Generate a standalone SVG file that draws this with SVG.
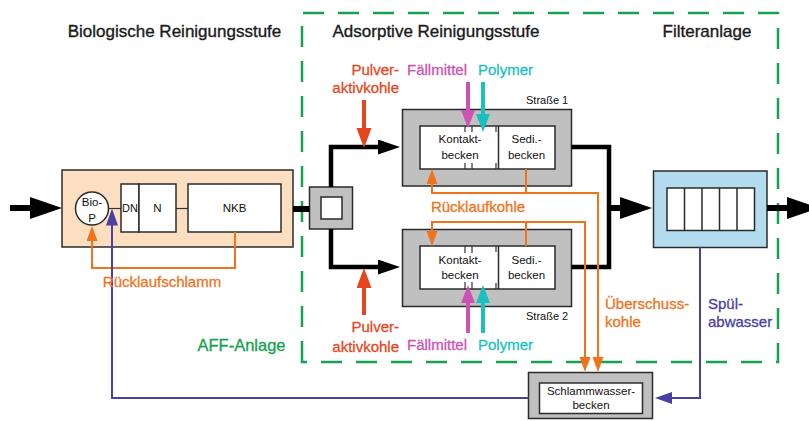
<svg xmlns="http://www.w3.org/2000/svg" width="809" height="421" viewBox="0 0 809 421">
<defs>
<style>
text{font-family:"Liberation Sans",Arial,sans-serif}
.h{font-size:17px;fill:#1a1a1a;stroke:#1a1a1a;stroke-width:0.35;text-anchor:middle}
.s{font-size:11.5px;fill:#111;text-anchor:middle}
.box{stroke:#2b2b2b;stroke-width:1.5}
.gray{fill:#c0c0c0}
.white{fill:#fff}
.tick{stroke:#333;stroke-width:1.2;fill:none}
.blk{stroke:#000;fill:none;stroke-linejoin:miter}
.org{stroke:#F0731C;stroke-width:2;fill:none}
.ind{stroke:#4A3FA5;stroke-width:2;fill:none}
.red{stroke:#E6461E;stroke-width:4;fill:none}
.mag{stroke:#CC52B4;stroke-width:4;fill:none}
.teal{stroke:#1ABFBF;stroke-width:4;fill:none}
.tOrg{font-size:15px;fill:#F0731C;stroke:#F0731C;stroke-width:0.3}
.tRed{font-size:15px;fill:#E6461E;stroke:#E6461E;stroke-width:0.3;text-anchor:end}
.tMag{font-size:15px;fill:#CC52B4;stroke:#CC52B4;stroke-width:0.3}
.tTeal{font-size:15px;fill:#1ABFBF;stroke:#1ABFBF;stroke-width:0.3}
.tInd{font-size:15px;fill:#4A3FA5;stroke:#4A3FA5;stroke-width:0.3}
.tGrn{font-size:16.5px;fill:#15A24F;stroke:#15A24F;stroke-width:0.3;text-anchor:middle}
</style>
<marker id="aBig" markerUnits="userSpaceOnUse" markerWidth="34" markerHeight="24" refX="2" refY="11" orient="auto"><path d="M0,0 L32,11 L0,22 Z" fill="#000"/></marker>
<marker id="aBr" markerUnits="userSpaceOnUse" markerWidth="24" markerHeight="16" refX="2" refY="7.5" orient="auto"><path d="M0,0 L22,7.5 L0,15 Z" fill="#000"/></marker>
<marker id="aRed" markerUnits="userSpaceOnUse" markerWidth="22" markerHeight="16" refX="2" refY="7.5" orient="auto"><path d="M0,0 L20,7.5 L0,15 Z" fill="#E6461E"/></marker>
<marker id="aMag" markerUnits="userSpaceOnUse" markerWidth="20" markerHeight="15" refX="2" refY="7" orient="auto"><path d="M0,0 L18,7 L0,14 Z" fill="#CC52B4"/></marker>
<marker id="aTeal" markerUnits="userSpaceOnUse" markerWidth="20" markerHeight="15" refX="2" refY="7" orient="auto"><path d="M0,0 L18,7 L0,14 Z" fill="#1ABFBF"/></marker>
<marker id="aOrg" markerUnits="userSpaceOnUse" markerWidth="17" markerHeight="12" refX="2" refY="5.5" orient="auto"><path d="M0,0 L15,5.5 L0,11 Z" fill="#F0731C"/></marker>
<marker id="aInd" markerUnits="userSpaceOnUse" markerWidth="19" markerHeight="13" refX="2" refY="6" orient="auto"><path d="M0,0 L17,6 L0,12 Z" fill="#4A3FA5"/></marker>
</defs>

<rect width="809" height="421" fill="#fff"/>

<!-- AFF-Anlage boundary -->
<g id="aff-boundary">
<path d="M302,362 V13 H778 V362 Z" fill="none" stroke="#15A24F" stroke-width="2.5" stroke-dasharray="21 14"/>
<text class="tGrn" x="241.5" y="351">AFF-Anlage</text>
</g>

<!-- headers -->
<g id="headers">
<text class="h" x="174.5" y="37">Biologische Reinigungsstufe</text>
<text class="h" x="436" y="37">Adsorptive Reinigungsstufe</text>
<text class="h" x="707" y="37">Filteranlage</text>
</g>

<!-- Biological stage -->
<g id="bio">
<rect class="box" x="62" y="170" width="231" height="77" fill="#FCDEC0"/>
<line class="tick" x1="108" y1="208.5" x2="121" y2="208.5"/>
<line class="tick" x1="176" y1="208.5" x2="188" y2="208.5"/>
</g>
<g id="biop">
<circle class="box white" cx="92" cy="208.5" r="16.5"/>
<text class="s" x="92" y="206">Bio-</text>
<text class="s" x="92" y="221.5">P</text>
</g>
<g id="dn">
<rect class="box white" x="121" y="184" width="18" height="48"/>
<text class="s" x="130" y="212" style="font-size:11px">DN</text>
</g>
<g id="n">
<rect class="box white" x="139" y="184" width="37" height="48"/>
<text class="s" x="157.5" y="212">N</text>
</g>
<g id="nkb">
<rect class="box white" x="188" y="184" width="93" height="48"/>
<text class="s" x="234.5" y="212">NKB</text>
</g>

<!-- distributor -->
<g id="verteiler">
<rect class="box gray" x="309.5" y="187" width="43" height="42"/>
<rect class="box white" x="321" y="197" width="21" height="22"/>
</g>

<!-- Strasse 1 -->
<g id="strasse1">
<rect class="box gray" x="402.5" y="109.5" width="169" height="76.5"/>
<rect class="box white" x="420" y="126" width="135" height="43"/>
<line class="box" x1="498.5" y1="126" x2="498.5" y2="169"/>
<path class="tick" d="M465,126 V132 M472,126 V132 M465,163 V169 M472,163 V169 M496,126 V132 M496,163 V169"/>
<text class="s" x="460" y="143">Kontakt-</text>
<text class="s" x="460" y="158.5">becken</text>
<text class="s" x="526.5" y="143">Sedi.-</text>
<text class="s" x="526.5" y="158.5">becken</text>
<text x="526" y="103.5" style="font-size:11px;fill:#111">Straße 1</text>
</g>

<!-- Strasse 2 -->
<g id="strasse2">
<rect class="box gray" x="402.5" y="229.5" width="169" height="77"/>
<rect class="box white" x="420" y="246" width="135" height="43"/>
<line class="box" x1="498.5" y1="246" x2="498.5" y2="289"/>
<path class="tick" d="M465,246 V253 M472,246 V253 M465,282 V289 M472,282 V289 M496,246 V252 M496,283 V289"/>
<text class="s" x="460" y="263.5">Kontakt-</text>
<text class="s" x="460" y="278.5">becken</text>
<text class="s" x="526.5" y="263.5">Sedi.-</text>
<text class="s" x="526.5" y="278.5">becken</text>
<text x="526" y="320" style="font-size:11px;fill:#111">Straße 2</text>
</g>

<!-- Filter -->
<g id="filter">
<rect class="box" x="653.5" y="171" width="113.5" height="76.5" fill="#B4DCEF"/>
<rect class="box white" x="667" y="188" width="87.5" height="42.5"/>
<path class="box" d="M684.5,188 V230.5 M702,188 V230.5 M719.5,188 V230.5 M737,188 V230.5" fill="none"/>
</g>

<!-- Schlammwasserbecken -->
<g id="schlammwasser">
<rect class="box gray" x="528.5" y="372.5" width="124" height="46"/>
<rect class="box white" x="539.5" y="383" width="103" height="30.5"/>
<text class="s" x="591" y="395">Schlammwasser-</text>
<text class="s" x="591" y="408.5">becken</text>
</g>

<!-- connectors -->
<g id="connectors">
<path class="blk" stroke-width="6" d="M10,208 H32" marker-end="url(#aBig)"/>
<path class="blk" stroke-width="6" d="M293,209 H309.5"/>
<path class="blk" stroke-width="4.5" d="M331,187 V147 H380" marker-end="url(#aBr)"/>
<path class="blk" stroke-width="4.5" d="M331,229 V267 H380" marker-end="url(#aBr)"/>
<path class="blk" stroke-width="4.5" d="M571.5,147 H609 V267 H571.5"/>
<path class="blk" stroke-width="6" d="M607,208 H622" marker-end="url(#aBig)"/>
<path class="blk" stroke-width="6" d="M767,208 H789" marker-end="url(#aBig)"/>

<path class="red" d="M364,100 V130" marker-end="url(#aRed)"/>
<path class="red" d="M364,315 V286" marker-end="url(#aRed)"/>
<path class="mag" d="M468,82 V112" marker-end="url(#aMag)"/>
<path class="teal" d="M483,82 V116" marker-end="url(#aTeal)"/>
<path class="mag" d="M468,333 V301" marker-end="url(#aMag)"/>
<path class="teal" d="M483,333 V301" marker-end="url(#aTeal)"/>

<path class="org" d="M235,232 V268 H92 V239" marker-end="url(#aOrg)"/>

<path class="org" d="M526,169 V193 H432 V182" marker-end="url(#aOrg)"/>
<path class="org" d="M526,193 H598 V359" marker-end="url(#aOrg)"/>
<path class="org" d="M526,246 V222 H432 V233" marker-end="url(#aOrg)"/>
<path class="org" d="M526,222 H585 V359" marker-end="url(#aOrg)"/>

<path class="ind" d="M700,247.5 V398 H670" marker-end="url(#aInd)"/>
<path class="ind" d="M528.5,398 H112 V223.5" marker-end="url(#aInd)"/>
</g>

<!-- labels -->
<g id="labels">
<text class="tRed" x="399" y="75">Pulver-</text>
<text class="tRed" x="399" y="93">aktivkohle</text>
<text class="tRed" x="399" y="332">Pulver-</text>
<text class="tRed" x="399" y="351.5">aktivkohle</text>
<text class="tMag" x="407" y="75">Fällmittel</text>
<text class="tTeal" x="478" y="75">Polymer</text>
<text class="tMag" x="407" y="350">Fällmittel</text>
<text class="tTeal" x="478" y="350">Polymer</text>
<text class="tOrg" x="478" y="211.5" text-anchor="middle">Rücklaufkohle</text>
<text class="tOrg" x="162" y="286.5" text-anchor="middle">Rücklaufschlamm</text>
<text class="tOrg" x="605" y="308.5">Überschuss-</text>
<text class="tOrg" x="605" y="326.5">kohle</text>
<text class="tInd" x="708" y="308.5">Spül-</text>
<text class="tInd" x="708" y="326.5">abwasser</text>
</g>
</svg>
